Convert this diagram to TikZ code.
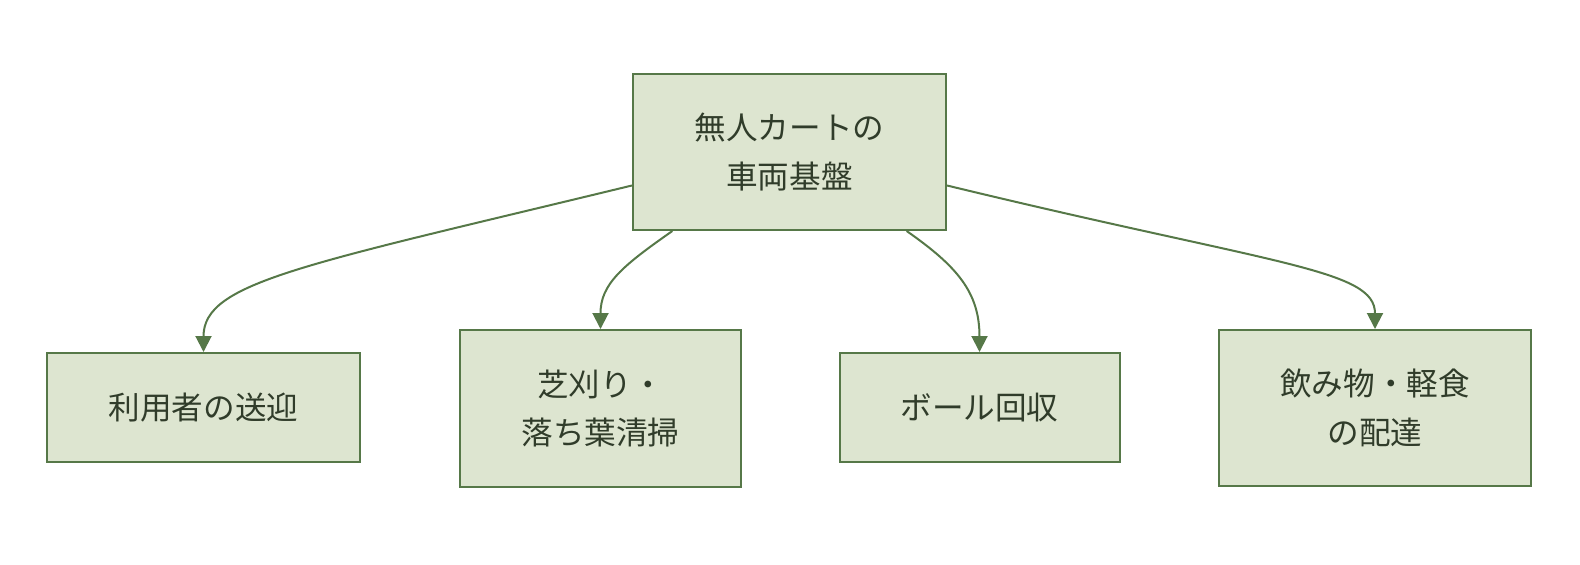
\documentclass[tikz,border=0pt]{standalone}
\usepackage{xcolor}
\definecolor{cartfill}{RGB}{221, 229, 208}
\definecolor{cartline}{RGB}{86, 120, 72}
\definecolor{carttext}{RGB}{48, 60, 42}
\usepackage{fontspec}
\setmainfont{Noto Sans CJK JP}
\usepackage{tikz}
\usetikzlibrary{positioning, arrows.meta}

\begin{document}
\begin{tikzpicture}[x=0.5pt, y=-0.5pt]

  \tikzstyle{cartbox} = [
    draw=cartline, fill=cartfill, line width=1pt,
    align=center, inner sep=0pt,
    font=\fontsize{15.8pt}{24.2pt}\selectfont, text=carttext
  ]
  \tikzstyle{cartarrow} = [
    draw=cartline, line width=1pt,
    -{Triangle[width=8pt, length=8pt]}
  ]

  \useasboundingbox (0,0) rectangle (1580,564);

  \node[cartbox, minimum width=156.5pt, minimum height=78pt] (base) at (789.5,152)
    {無人カートの\\車両基盤};

  \node[cartbox, minimum width=156.5pt, minimum height=54.5pt] (u1) at (203.5,407.5)
    {利用者の送迎};
  \node[cartbox, minimum width=140.5pt, minimum height=78.5pt] (u2) at (600.5,408.5)
    {芝刈り・\\落ち葉清掃};
  \node[cartbox, minimum width=140pt, minimum height=54.5pt] (u3) at (979.5,407.5)
    {ボール回収};
  \node[cartbox, minimum width=156pt, minimum height=78pt] (u4) at (1375,408)
    {飲み物・軽食\\の配達};

  \draw[cartarrow] (base.192) .. controls +(-330,80) and +(0,-70) .. (u1.north);
  \draw[cartarrow] (base.214) .. controls +(-50,35) and +(0,-45) .. (u2.north);
  \draw[cartarrow] (base.326) .. controls +(50,35) and +(0,-60) .. (u3.north);
  \draw[cartarrow] (base.348) .. controls +(330,80) and +(0,-60) .. (u4.north);

\end{tikzpicture}
\end{document}
